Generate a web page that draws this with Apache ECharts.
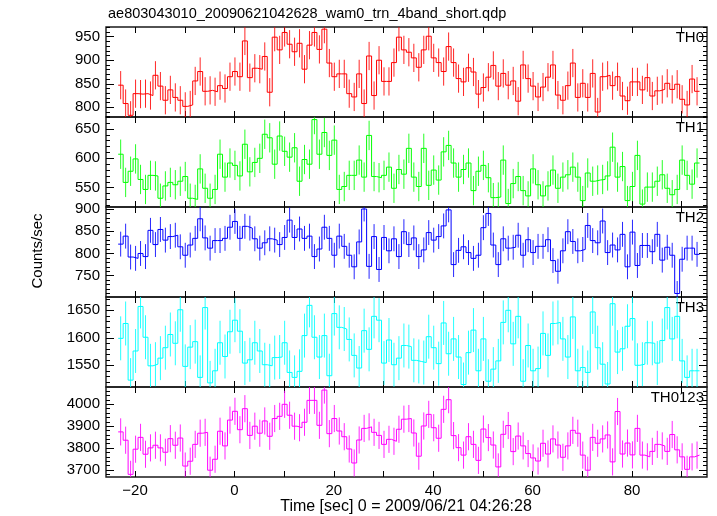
<!DOCTYPE html>
<html><head><meta charset="utf-8">
<script src="https://cdn.jsdelivr.net/npm/echarts@6/dist/echarts.min.js"></script>
<style>html,body{margin:0;padding:0;background:#fff}#c{width:717px;height:516px}</style>
</head><body><div id="c"></div>
<script>
const chartTitle = "ae803043010_20090621042628_wam0_trn_4band_short.qdp";
const xTitle = "Time [sec] 0 = 2009/06/21 04:26:28";
const yTitle = "Counts/sec";
const panelNames = ["TH0", "TH1", "TH2", "TH3", "TH0123"];
const panelColors = ["#ff0000", "#00ff00", "#0000ff", "#00ffff", "#ff00ff"];
const firstBinCenter = -22.9;
const binWidth = 1.0;

const th0 = [847,808,783,829,828,829,825,868,845,815, 837,821,815,802,805,856,876,834,836,833,
  846,840,865,876,865,941,863,883,881,908, 832,949,922,959,934,918,936,881,932,959,
  923,966,894,865,871,871,829,822,871,808, 909,825,900,855,855,895,949,922,917,
  905,885,922,951,905,895,876,929,895,861, 854,884,875,828,842,864,889,845,872,847,
  856,813,890,861,845,822,843,864,890,826, 815,846,894,821,851,821,872,790,865,868,
  846,865,824,814,854,854,837,863,824,835, 838,851,838,849,817,805,860,834];
const th1 = [607,559,578,599,564,547,571,570,532,553, 559,555,561,569,532,530,582,549,532,547,
  607,568,592,588,570,624,577,593,600,641, 635,590,638,612,602,618,561,598,590,666,
  607,644,605,631,547,552,571,571,597,568, 639,569,567,571,585,549,581,573,617,
  568,552,617,554,580,563,611,622,592,568, 581,592,545,578,588,567,533,534,597,523,
  557,569,545,536,582,555,536,553,580,549, 568,572,585,568,528,575,561,563,564,570,
  619,568,586,528,552,605,522,551,551,561, 572,549,538,547,597,571,556,592];
const th2 = [821,839,792,789,800,793,852,820,854,830, 838,841,815,796,819,834,878,835,812,829,
  829,834,859,872,834,861,857,833,812,824, 833,830,820,836,875,836,855,834,839,793,
  810,859,834,796,839,816,796,770,826,900, 771,838,764,836,806,833,793,849,820,
  835,793,808,847,830,838,862,898,775,807, 815,802,789,796,858,890,819,775,833,812,
  814,841,796,831,802,816,816,831,784,760, 806,849,827,806,809,863,829,824,873,802,
  819,808,843,770,848,773,818,818,804,843, 785,814,796,710,787,812,812,798];
const th3 = [1599,1626,1523,1576,1657,1601,1549,1552,1563,1582, 1606,1590,1651,1548,1583,1593,1528,1655,1518,1540,
  1591,1566,1611,1632,1612,1554,1560,1591,1576,1551, 1549,1564,1565,1591,1537,1528,1539,1604,1659,1601,
  1565,1604,1531,1644,1619,1616,1597,1568,1545,1613, 1579,1639,1632,1554,1596,1551,1563,1586,1584,
  1559,1557,1555,1602,1582,1553,1627,1571,1598,1565, 1515,1573,1614,1540,1598,1521,1543,1558,1628,1650,
  1589,1639,1521,1586,1540,1544,1608,1568,1626,1628, 1598,1565,1638,1540,1546,1537,1647,1582,1552,1516,
  1662,1574,1580,1621,1635,1550,1552,1591,1590,1554, 1595,1655,1598,1639,1558,1528,1540,1540];
const th0123 = [3874,3836,3680,3795,3849,3772,3801,3813,3801,3781, 3843,3813,3846,3718,3740,3817,3868,3872,3699,3749,
  3877,3810,3928,3968,3884,3980,3858,3900,3868,3924, 3854,3935,3945,4000,3950,3900,3893,3918,4018,4018,
  3904,4065,3866,3935,3878,3852,3796,3732,3837,3890, 3897,3872,3858,3817,3840,3831,3886,3932,3935,
  3869,3763,3901,3954,3893,3845,3977,4021,3857,3802, 3768,3852,3817,3744,3887,3848,3814,3714,3863,3903,
  3784,3855,3810,3775,3755,3741,3822,3773,3842,3814, 3758,3810,3881,3868,3768,3699,3849,3822,3842,3860,
  3737,3967,3773,3823,3769,3890,3768,3760,3785,3817, 3810,3785,3862,3792,3760,3703,3760,3768];
const panelValues = [th0, th1, th2, th3, th0123];
const errHalf = [30, 25, 28, 40, 62];

const yMin = [779.4, 517.1, 702.1, 1510.5, 3668];
const yMax = [970.6, 670.4, 904.5, 1674.2, 4079];
const yTickLabels = [[800,850,900,950],[550,600,650],[750,800,850,900],[1550,1600,1650],[3700,3800,3900,4000]];
const yMinorStep = [10, 10, 10, 10, 20];
const xMajorTicks = [-20,-10,0,10,20,30,40,50,60,70,80,90];
const xTickLabels = [-20,0,20,40,60,80];
const xMin = -25.85, xMax = 95.1;

const FONT = '"Liberation Sans", Arial, sans-serif';
const plotLeft = 106, plotWidth = 601, plotTop = 27, panelH = 90;

const grids = [], xAxes = [], yAxes = [], series = [], graphics = [];
for (let i = 0; i < 5; i++) {
  grids.push({left: plotLeft, width: plotWidth, top: plotTop + panelH * i, height: panelH,
    show: true, borderColor: '#1a1a1a', borderWidth: 1.4, backgroundColor: 'transparent'});
  const last = i === 4;
  ['bottom', 'top'].forEach(pos => {
    xAxes.push({gridIndex: i, type: 'value', min: xMin, max: xMax, position: pos,
      axisLine: {show: false, onZero: false}, splitLine: {show: false},
      axisTick: {show: true, inside: true, length: 6, customValues: xMajorTicks, lineStyle: {color: '#000', width: 1}},
      axisLabel: {show: last && pos === 'bottom', customValues: xTickLabels, fontSize: 15, fontFamily: FONT,
        color: '#000', margin: 6, formatter: v => String(v).replace('-', '\u2212')}});
  });
  const minor = [];
  for (let v = Math.ceil(yMin[i] / yMinorStep[i]) * yMinorStep[i]; v <= yMax[i]; v += yMinorStep[i]) {
    if (yTickLabels[i].indexOf(v) < 0) minor.push(v);
  }
  ['left', 'right'].forEach(pos => {
    yAxes.push({gridIndex: i, type: 'value', min: yMin[i], max: yMax[i], position: pos,
      axisLine: {show: false, onZero: false}, splitLine: {show: false},
      axisTick: {show: true, inside: true, length: 8, customValues: yTickLabels[i], lineStyle: {color: '#000', width: 1}},
      axisLabel: {show: pos === 'left', customValues: yTickLabels[i], fontSize: 15, fontFamily: FONT, color: '#000',
        margin: 6, formatter: v => String(v)}});
    yAxes.push({gridIndex: i, type: 'value', min: yMin[i], max: yMax[i], position: pos,
      axisLine: {show: false, onZero: false}, splitLine: {show: false},
      axisTick: {show: true, inside: true, length: 4, customValues: minor, lineStyle: {color: '#000', width: 1}},
      axisLabel: {show: false}});
  });
  const vals = panelValues[i];
  const stepData = [], errData = [];
  vals.forEach((v, k) => {
    const c = firstBinCenter + k * binWidth;
    stepData.push([c - binWidth / 2, v], [c + binWidth / 2, v]);
    errData.push([c, v, errHalf[i]]);
  });
  const color = panelColors[i];
  series.push({type: 'line', xAxisIndex: 2 * i, yAxisIndex: 4 * i, data: stepData, showSymbol: false,
    symbol: 'none', lineStyle: {color: color, width: 1}, silent: true, animation: false, clip: true});
  series.push({type: 'custom', xAxisIndex: 2 * i, yAxisIndex: 4 * i, data: errData, silent: true, animation: false,
    encode: {x: 0, y: 1},
    renderItem: (params, api) => {
      const x = api.value(0), y = api.value(1), e = api.value(2);
      const p1 = api.coord([x, y - e]), p2 = api.coord([x, y + e]);
      const cs = params.coordSys;
      const top = cs.y, bot = cs.y + cs.height;
      const ya = Math.min(Math.max(p1[1], top), bot), yb = Math.min(Math.max(p2[1], top), bot);
      return {type: 'line', shape: {x1: p1[0], y1: ya, x2: p2[0], y2: yb},
        style: {stroke: color, lineWidth: 1, opacity: 0.85}};
    }});
  graphics.push({type: 'text', x: 704, y: plotTop + panelH * i + 11,
    style: {text: panelNames[i], font: '15px ' + FONT, fill: '#000', textAlign: 'right', textVerticalAlign: 'middle'}});
}
graphics.push({type: 'text', x: 108, y: 14, style: {text: chartTitle, font: '14.5px ' + FONT, fill: '#000', textVerticalAlign: 'middle'}});
graphics.push({type: 'text', x: 406, y: 507, style: {text: xTitle, font: '16px ' + FONT, fill: '#000', textAlign: 'center', textVerticalAlign: 'middle'}});
graphics.push({type: 'text', x: 38, y: 251, rotation: Math.PI / 2,
  style: {text: yTitle, font: '15px ' + FONT, fill: '#000', textAlign: 'center', textVerticalAlign: 'middle'}});

const chart = echarts.init(document.getElementById('c'), null, {renderer: 'canvas'});
chart.setOption({animation: false, backgroundColor: '#fff', grid: grids, xAxis: xAxes, yAxis: yAxes,
  series: series, graphic: graphics});
</script></body></html>
